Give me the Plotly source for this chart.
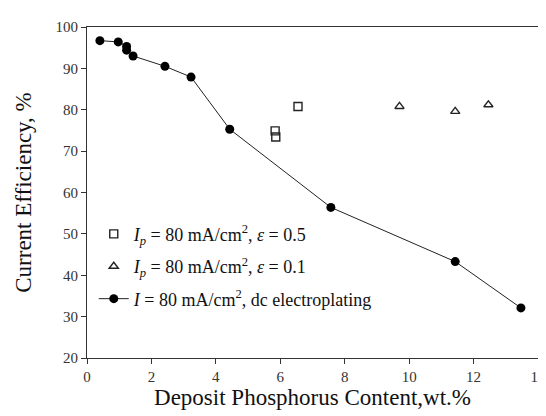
import plotly.graph_objects as go

# dc electroplating series
dc_x = [0.40, 0.97, 1.23, 1.23, 1.43, 2.42, 3.23, 4.43, 7.57, 11.43, 13.47]
dc_y = [96.7, 96.4, 95.3, 94.4, 93.0, 90.5, 87.9, 75.3, 56.4, 43.3, 32.1]

# pulse, eps = 0.5
sq_x = [5.84, 5.86, 6.55]
sq_y = [74.9, 73.4, 80.8]

# pulse, eps = 0.1
tri_x = [9.70, 11.43, 12.46]
tri_y = [80.8, 79.6, 81.2]

x_ticks = [0, 2, 4, 6, 8, 10, 12, 14]
y_ticks = [20, 30, 40, 50, 60, 70, 80, 90, 100]

FONT = "'Liberation Serif', 'Times New Roman', Times, serif"

fig = go.Figure()
fig.add_trace(go.Scatter(
    x=sq_x, y=sq_y, mode="markers", legendgroup="a",
    name="<i>I</i><sub><i>p</i></sub> = 80 mA/cm<sup>2</sup>, <i>ε</i> = 0.5",
    marker=dict(symbol="square-open", size=8, color="#222", line=dict(width=1.4, color="#222")),
))
fig.add_trace(go.Scatter(
    x=tri_x, y=tri_y, mode="markers", legendgroup="b",
    name="<i>I</i><sub><i>p</i></sub> = 80 mA/cm<sup>2</sup>, <i>ε</i> = 0.1",
    marker=dict(symbol="triangle-up-open", size=8, color="#222", line=dict(width=1.4, color="#222")),
))
fig.add_trace(go.Scatter(
    x=dc_x, y=dc_y, mode="lines+markers", legendgroup="c",
    name="<i>I</i> = 80 mA/cm<sup>2</sup>, dc electroplating",
    line=dict(color="#222", width=1),
    marker=dict(symbol="circle", size=9, color="#000"),
))

axis_common = dict(
    showgrid=False, zeroline=False, showline=True, mirror=True,
    linecolor="#333", linewidth=1.2,
    ticks="outside", ticklen=5, tickcolor="#333", tickwidth=1,
    tickfont=dict(family=FONT, size=15, color="#333"),
)

fig.update_layout(
    width=546, height=416,
    margin=dict(l=79, r=8, t=19, b=66),
    paper_bgcolor="white", plot_bgcolor="white",
    font=dict(family=FONT, color="#111"),
    xaxis=dict(range=[0, 14], tickvals=x_ticks,
               title=dict(text="Deposit Phosphorus Content,wt.%", font=dict(family=FONT, size=23, color="#111"), standoff=0),
               **axis_common),
    yaxis=dict(range=[20, 100], tickvals=y_ticks,
               title=dict(text="Current Efficiency, %", font=dict(family=FONT, size=23, color="#111"), standoff=17),
               **axis_common),
    legend=dict(x=0.015, y=0.43, xanchor="left", yanchor="top",
                bgcolor="rgba(0,0,0,0)", font=dict(family=FONT, size=18, color="#111"),
                tracegroupgap=6, itemwidth=30),
    showlegend=True,
)

fig.write_html("out.html")
